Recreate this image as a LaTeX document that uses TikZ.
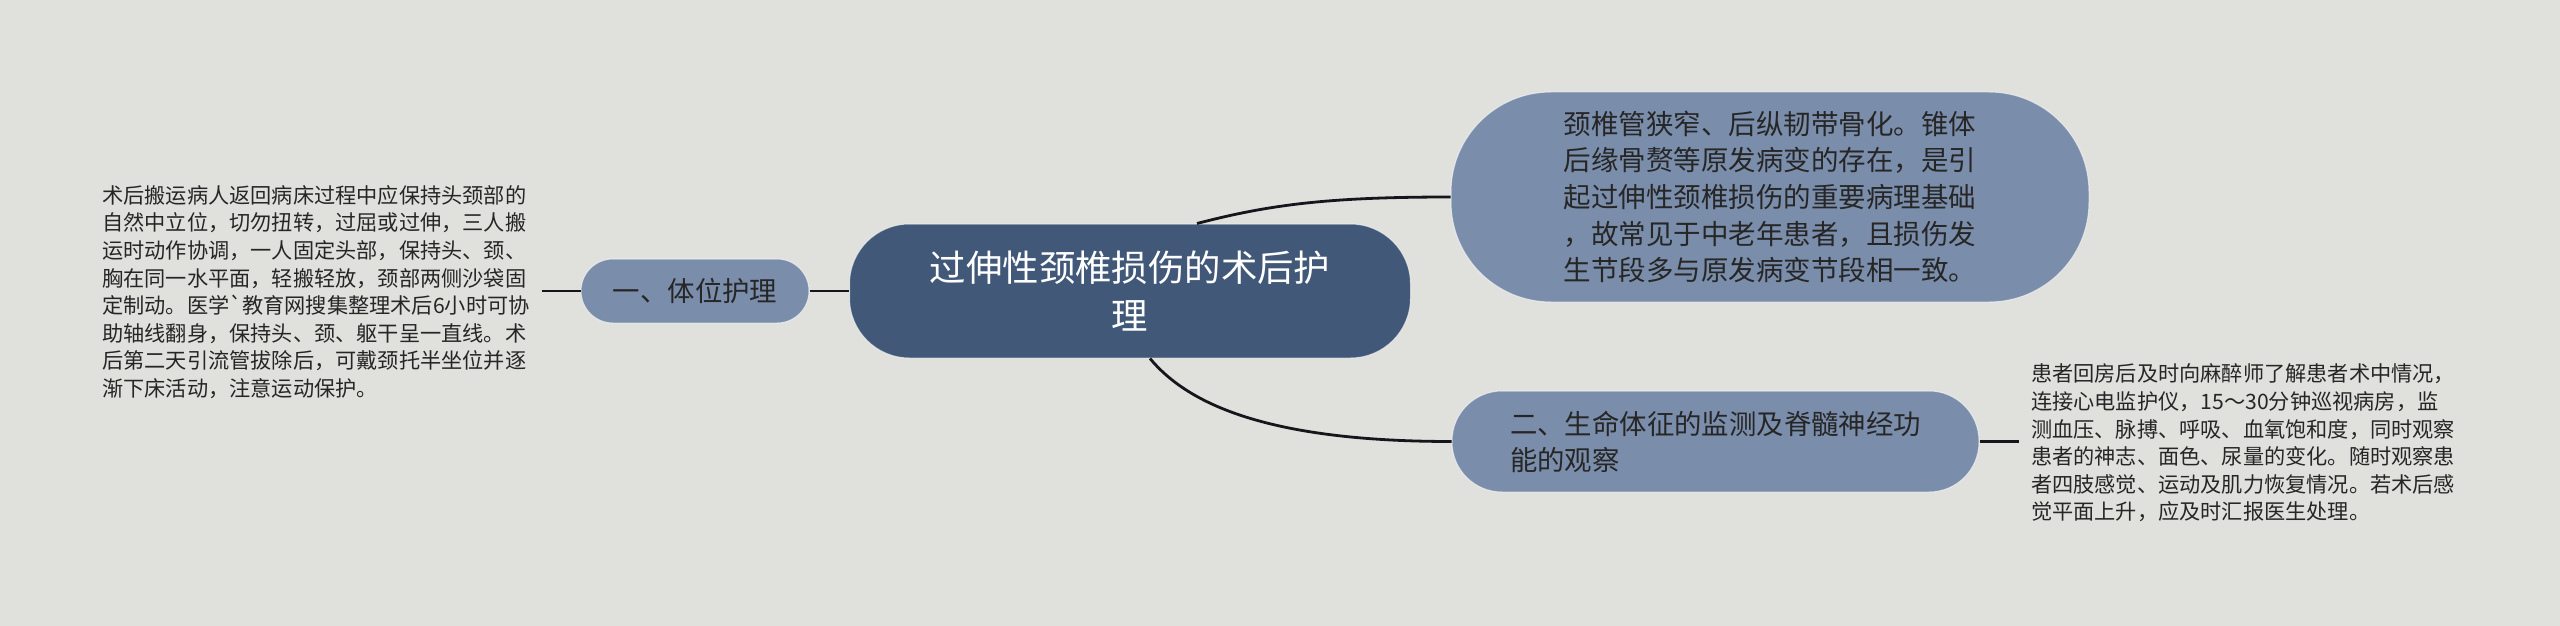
\documentclass[tikz,border=0pt]{standalone}
\usepackage{fontspec}
\setmainfont{Noto Sans CJK SC}[Ligatures=TeXOff]
\usetikzlibrary{calc}
\definecolor{bgcol}{HTML}{E0E0DC}
\definecolor{rootcol}{HTML}{415878}
\definecolor{subcol}{HTML}{7A8DAA}
\definecolor{linecol}{HTML}{14161C}
\definecolor{txtcol}{HTML}{262626}
\tikzset{
  rootbox/.style={fill=rootcol, draw=white, draw opacity=0.6, line width=0.5pt, rounded corners=30pt,
    minimum width=280.5pt, minimum height=67pt, inner sep=0pt, text=white, align=center,
    font=\fontsize{18.2}{24}\selectfont},
  subbox/.style={fill=subcol, draw=white, draw opacity=0.6, line width=0.5pt, inner sep=0pt,
    text=txtcol, align=left, font=\fontsize{13.7}{18}\selectfont},
  leaftext/.style={inner sep=0pt, outer sep=6pt, text=txtcol, align=left,
    font=\fontsize{10.6}{13.8}\selectfont},
  link/.style={draw=linecol, line width=1.4pt}
}
\begin{document}
\begin{tikzpicture}[x=0.5pt, y=-0.5pt]
\useasboundingbox (0,0) rectangle (2560,626);
\fill[bgcol] (0,0) rectangle (2560,626);

\node[rootbox] (root) at (1130,291) {过伸性颈椎损伤的术后护\\理};

\node[subbox, rounded corners=16pt, minimum width=114pt, minimum height=32pt, align=center] (n1) at (695,291) {一、体位护理};

\node[subbox, rounded corners=50pt, minimum width=319pt, minimum height=105pt, font=\fontsize{13.75}{18.35}\selectfont] (tr) at (1770,197) {颈椎管狭窄、后纵韧带骨化。锥体\\后缘骨赘等原发病变的存在，是引\\起过伸性颈椎损伤的重要病理基础\\，故常见于中老年患者，且损伤发\\生节段多与原发病变节段相一致。};

\node[subbox, rounded corners=25pt, minimum width=263.5pt, minimum height=50.5pt] (bn) at (1715.5,441.5) {二、生命体征的监测及脊髓神经功\\能的观察\hphantom{监测及脊髓神经功}};

\node[leaftext] (lt) at (316,292) {术后搬运病人返回病床过程中应保持头颈部的\\自然中立位，切勿扭转，过屈或过伸，三人搬\\运时动作协调，一人固定头部，保持头、颈、\\胸在同一水平面，轻搬轻放，颈部两侧沙袋固\\定制动。医学{\char"60}教育网搜集整理术后6小时可协\\助轴线翻身，保持头、颈、躯干呈一直线。术\\后第二天引流管拔除后，可戴颈托半坐位并逐\\渐下床活动，注意运动保护。};

\node[leaftext] (rt) at (2243,443) {患者回房后及时向麻醉师了解患者术中情况，\\连接心电监护仪，15～30分钟巡视病房，监\\测血压、脉搏、呼吸、血氧饱和度，同时观察\\患者的神志、面色、尿量的变化。随时观察患\\者四肢感觉、运动及肌力恢复情况。若术后感\\觉平面上升，应及时汇报医生处理。};

\draw[link] (lt.east |- n1.west) -- (n1.west);
\draw[link] (n1.east) -- (root.west);
\draw[link] ($(root.north)+(67,0)$) .. controls +(73,-19) and +(-122,0) .. (tr.west);
\draw[link] ($(root.south)+(20,0)$) .. controls +(35,42) and +(-192,0) .. (bn.west);
\draw[link] (bn.east) -- (rt.west |- bn.east);
\end{tikzpicture}
\end{document}
